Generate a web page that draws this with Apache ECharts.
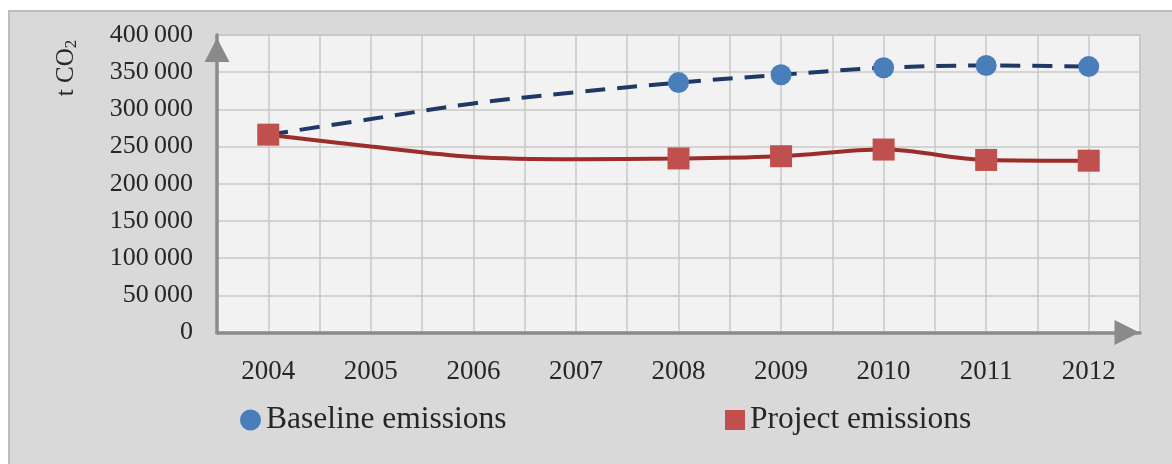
<!DOCTYPE html>
<html>
<head>
<meta charset="utf-8">
<title>Baseline and project emissions</title>
<script src="https://cdn.jsdelivr.net/npm/echarts@6/dist/echarts.min.js"></script>
<style>
  html, body { margin: 0; padding: 0; background: #ffffff; }
  #panel {
    position: absolute; left: 8px; top: 10px; width: 1170px; height: 460px;
    background: #d9d9d9; border-left: 2px solid #bdbdbd; border-top: 2px solid #bdbdbd;
  }
  #chart { position: absolute; left: 0; top: 0; width: 1172px; height: 464px; }
</style>
</head>
<body>
<div id="panel"></div>
<div id="chart"></div>
<script>
// Years on the category axis
const years = ['2004', '2005', '2006', '2007', '2008', '2009', '2010', '2011', '2012'];

// Emissions in tonnes of CO2 per year
const baselineEmissions = [266000, 287000, 308000, 323000, 336000, 346500, 356000, 359000, 357500];
const projectEmissions  = [266000, 250000, 236000, 233000, 234000, 237000, 246000, 232000, 231000];

// Years that carry a marker on both lines
const markedYears = ['2004', '2008', '2009', '2010', '2011', '2012'];

// Value axis range
const yMin = 0;
const yMax = 400000;
const yStep = 50000;

const seriesNames = ['Baseline emissions', 'Project emissions'];

const FONT = '"Liberation Serif", "Times New Roman", serif';
const TEXT = '#262626';

function withMarkers(values) {
  return values.map((v, i) => markedYears.includes(years[i]) ? v : { value: v, symbol: 'none' });
}

function groupThousands(v) {
  return String(v).replace(/\B(?=(\d{3})+(?!\d))/g, '\u2009');
}

const chart = echarts.init(document.getElementById('chart'), null, { renderer: 'canvas' });

chart.setOption({
  animation: false,
  backgroundColor: 'transparent',
  grid: {
    left: 217, right: 32, top: 35, bottom: 131.5,
    show: true, backgroundColor: '#f2f2f2', borderColor: '#c4c4c4', borderWidth: 1.5
  },
  legend: [
    {
      left: 240, top: 404, padding: 0, itemGap: 0,
      itemWidth: 21, itemHeight: 21, itemTextGap: 5,
      textStyle: { fontFamily: FONT, fontSize: 31.5, color: TEXT },
      data: [{ name: seriesNames[0], icon: 'circle' }]
    },
    {
      left: 725, top: 404, padding: 0, itemGap: 0,
      itemWidth: 20, itemHeight: 20, itemTextGap: 5,
      textStyle: { fontFamily: FONT, fontSize: 31.5, color: TEXT },
      data: [{ name: seriesNames[1], icon: 'rect' }]
    }
  ],
  xAxis: [
    {
      type: 'category',
      data: years,
      boundaryGap: true,
      axisLine: {
        show: true,
        symbol: ['none', 'triangle'],
        symbolSize: [25, 25],
        symbolOffset: [0, -13],
        lineStyle: { color: '#8a8a8a', width: 3.5 }
      },
      axisTick: { show: false },
      splitLine: { show: false },
      axisLabel: { margin: 26, fontFamily: FONT, fontSize: 27, color: TEXT }
    },
    {
      // half-year grid columns
      type: 'value',
      position: 'top',
      min: 0, max: years.length * 2, interval: 1,
      axisLine: { show: false },
      axisTick: { show: false },
      axisLabel: { show: false },
      splitLine: { show: true, lineStyle: { color: '#c8c8c8', width: 1.5 } }
    }
  ],
  yAxis: {
    type: 'value',
    min: yMin, max: yMax, interval: yStep,
    axisLine: {
      show: true,
      symbol: ['none', 'triangle'],
      symbolSize: [25, 24],
      symbolOffset: [0, -15],
      lineStyle: { color: '#8a8a8a', width: 3.5 }
    },
    axisTick: { show: false },
    splitLine: { show: true, lineStyle: { color: '#c8c8c8', width: 1.5 } },
    axisLabel: {
      margin: 24, fontFamily: FONT, fontSize: 26, color: TEXT,
      padding: [0, 0, 3, 0],
      formatter: groupThousands
    }
  },
  graphic: [
    {
      type: 'text',
      x: 66, y: 68,
      rotation: Math.PI / 2,
      style: {
        text: '{n|t CO}{s|2}',
        align: 'center', verticalAlign: 'middle',
        fill: TEXT,
        rich: {
          n: { fontFamily: FONT, fontSize: 25, fill: TEXT, lineHeight: 28 },
          s: { fontFamily: FONT, fontSize: 17, fill: TEXT, lineHeight: 28, verticalAlign: 'bottom', padding: [9, 0, 0, 0] }
        }
      }
    }
  ],
  series: [
    {
      name: seriesNames[0],
      type: 'line',
      data: withMarkers(baselineEmissions),
      smooth: 0.35,
      symbol: 'circle',
      symbolSize: 21,
      itemStyle: { color: '#4a7ebb' },
      lineStyle: { color: '#1f3864', width: 4, type: [20, 12] },
      z: 2
    },
    {
      name: seriesNames[1],
      type: 'line',
      data: withMarkers(projectEmissions),
      smooth: 0.35,
      symbol: 'rect',
      symbolSize: 22,
      itemStyle: { color: '#c0504d' },
      lineStyle: { color: '#9b2d2a', width: 4 },
      z: 3
    }
  ]
});
</script>
</body>
</html>
